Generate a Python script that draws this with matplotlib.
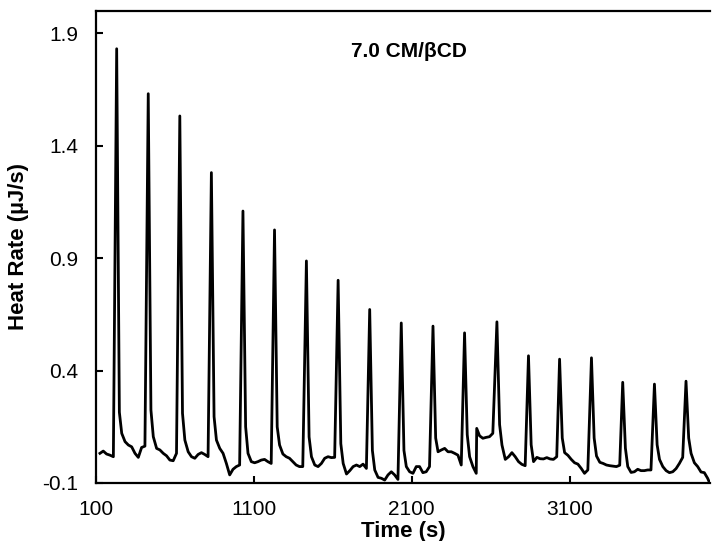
import matplotlib
matplotlib.use("Agg")
import matplotlib.pyplot as plt
import numpy as np

plt.rcParams["font.family"] = ["Liberation Sans", "DejaVu Sans"]
plt.rcParams["axes.unicode_minus"] = False

# injection peak times (s)
peak_times = [231, 431, 631, 831, 1031, 1231, 1433, 1634, 1834, 2034,
              2235, 2435, 2640, 2840, 3037, 3239, 3437, 3638, 3838]

# time after each peak (s) at which the trace was read
offsets = [0, 17, 32, 53, 74, 95, 116, 137, 158, 179]

# heat rate (uJ/s) at those offsets, one row per injection
heat_rows = [
    [1.832, 0.215, 0.121, 0.084, 0.069, 0.061, 0.032, 0.014, 0.058, 0.064],
    [1.632, 0.225, 0.106, 0.054, 0.047, 0.032, 0.021, 0.002, -0.001, 0.032],
    [1.533, 0.210, 0.091, 0.039, 0.017, 0.010, 0.027, 0.035, 0.027, 0.017],
    [1.281, 0.195, 0.091, 0.054, 0.032, -0.013, -0.064, -0.039, -0.027, -0.020],
    [1.110, 0.150, 0.032, -0.005, -0.010, -0.005, 0.002, 0.005, -0.005, -0.013],
    [1.026, 0.150, 0.069, 0.029, 0.017, 0.010, -0.005, -0.020, -0.027, -0.027],
    [0.888, 0.105, 0.017, -0.020, -0.027, -0.013, 0.010, 0.017, 0.013, 0.014],
    [0.802, 0.075, -0.013, -0.060, -0.045, -0.027, -0.020, -0.027, -0.016, -0.035],
    [0.672, 0.045, -0.042, -0.075, -0.079, -0.087, -0.064, -0.050, -0.064, -0.084],
    [0.612, 0.045, -0.027, -0.050, -0.057, -0.027, -0.027, -0.054, -0.050, -0.027],
    [0.598, 0.100, 0.039, 0.047, 0.054, 0.039, 0.039, 0.032, 0.024, -0.020],
    [0.568, 0.115, 0.017, -0.027, -0.057, 0.110, 0.099, 0.103, 0.106, 0.121],
    [0.617, 0.160, 0.069, 0.005, 0.017, 0.035, 0.017, -0.005, -0.017, -0.023],
    [0.466, 0.070, -0.005, 0.014, 0.008, 0.007, 0.013, 0.007, 0.005, 0.017],
    [0.451, 0.100, 0.035, 0.023, 0.005, -0.010, -0.016, -0.035, -0.057, -0.042],
    [0.457, 0.100, 0.020, -0.008, -0.013, -0.020, -0.023, -0.025, -0.027, -0.021],
    [0.348, 0.055, -0.027, -0.053, -0.050, -0.039, -0.045, -0.045, -0.042, -0.042],
    [0.340, 0.070, 0.005, -0.027, -0.045, -0.054, -0.050, -0.036, -0.013, 0.014],
    [0.353, 0.100, 0.032, -0.010, -0.027, -0.051, -0.054, -0.079, np.nan, np.nan],
]

# baseline before the first injection
lead_times = [125, 146, 167, 188, 210]
lead_heat = [0.032, 0.042, 0.029, 0.024, 0.017]

# baseline jump after injection 12, and the end of the record
extra_times = [2512, 3985]
extra_heat = [0.143, -0.095]

x_ticks = [100, 1100, 2100, 3100]
y_ticks = [-0.1, 0.4, 0.9, 1.4, 1.9]

times = list(lead_times)
heat = list(lead_heat)
for pk, row in zip(peak_times, heat_rows):
    for off, val in zip(offsets, row):
        times.append(pk + off)
        heat.append(val)
times += extra_times
heat += extra_heat

times = np.array(times, dtype=float)
heat = np.array(heat, dtype=float)
order = np.argsort(times)
times, heat = times[order], heat[order]
keep = np.isfinite(heat)
times, heat = times[keep], heat[keep]

fig = plt.figure(figsize=(7.12, 5.41), dpi=100)
ax = fig.add_axes([96 / 712, 1 - 483 / 541, 614 / 712, 472 / 541])

ax.plot(times, heat, color="black", linewidth=2.0, solid_joinstyle="round")

ax.set_xlim(100, 3990)
ax.set_ylim(-0.1, 2.0)
ax.set_xticks(x_ticks)
ax.set_yticks(y_ticks)
ax.set_xticklabels([str(t) for t in x_ticks])
ax.set_yticklabels(["%.1f" % t for t in y_ticks])
ax.tick_params(direction="in", length=5, width=1.5, labelsize=15)
ax.tick_params(axis="x", pad=12)
ax.tick_params(axis="y", pad=13)

for side in ["left", "bottom", "top"]:
    ax.spines[side].set_linewidth(1.6)
ax.spines["right"].set_visible(False)

ax.set_xlabel("Time (s)", fontsize=16, fontweight="bold", va="center")
ax.xaxis.set_label_coords(0.5, -0.103)
ax.set_ylabel("Heat Rate (µJ/s)", fontsize=16, fontweight="bold", va="center")
ax.yaxis.set_label_coords(-0.126, 0.5)

ax.text(0.51, 0.915, "7.0 CM/βCD", transform=ax.transAxes,
        ha="center", va="center", fontsize=15, fontweight="bold")

fig.savefig("out.png", dpi=100)
